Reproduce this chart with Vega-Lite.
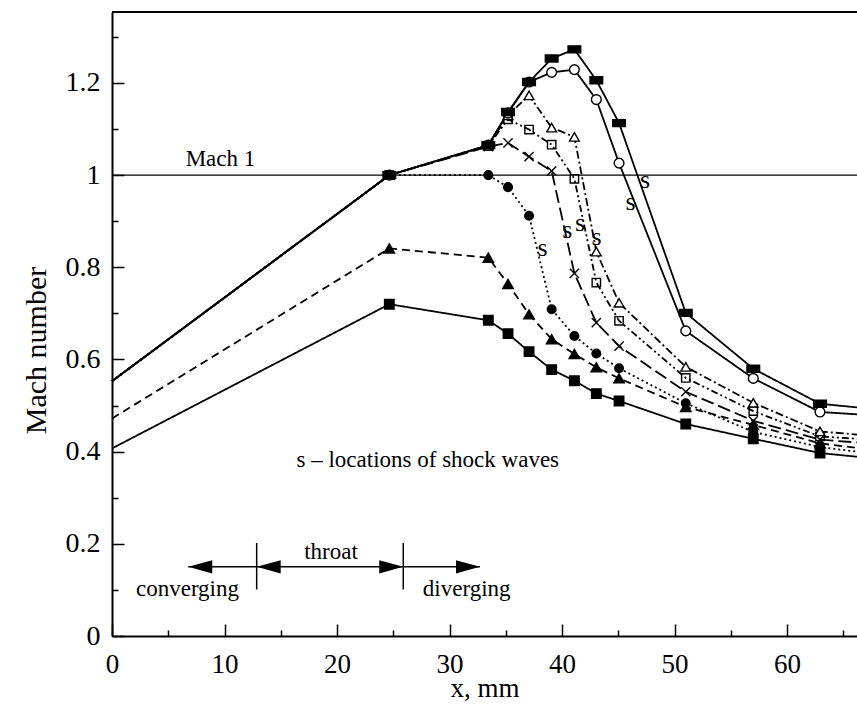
{
  "$schema": "https://vega.github.io/schema/vega-lite/v6.json",
  "width": 745,
  "height": 624,
  "autosize": "none",
  "padding": {"left": 112, "top": 12, "right": 0, "bottom": 68},
  "background": "white",
  "config": {
    "view": {"stroke": null},
    "font": "Liberation Serif",
    "axis": {
      "domainColor": "black", "tickColor": "black", "labelColor": "black", "titleColor": "black",
      "labelFont": "Liberation Serif", "titleFont": "Liberation Serif", "grid": false,
      "titleFontWeight": "normal"
    }
  },
  "datasets": {
    "curves": [
      {"s":"a","x":0,"y":0.407,"m":0},{"s":"a","x":24.65,"y":0.720,"m":1},{"s":"a","x":33.45,"y":0.685,"m":1},{"s":"a","x":35.2,"y":0.656,"m":1},{"s":"a","x":37.07,"y":0.617,"m":1},{"s":"a","x":39.08,"y":0.578,"m":1},{"s":"a","x":41.1,"y":0.554,"m":1},{"s":"a","x":43.05,"y":0.526,"m":1},{"s":"a","x":45.07,"y":0.510,"m":1},{"s":"a","x":51.0,"y":0.460,"m":1},{"s":"a","x":57.0,"y":0.428,"m":1},{"s":"a","x":62.93,"y":0.397,"m":1},{"s":"a","x":66.22,"y":0.389,"m":0},
      {"s":"b","x":0,"y":0.472,"m":0},{"s":"b","x":24.65,"y":0.841,"m":1},{"s":"b","x":33.45,"y":0.821,"m":1},{"s":"b","x":35.2,"y":0.764,"m":1},{"s":"b","x":37.07,"y":0.698,"m":1},{"s":"b","x":39.08,"y":0.644,"m":1},{"s":"b","x":41.1,"y":0.612,"m":1},{"s":"b","x":43.05,"y":0.583,"m":1},{"s":"b","x":45.07,"y":0.559,"m":1},{"s":"b","x":51.0,"y":0.497,"m":1},{"s":"b","x":57.0,"y":0.458,"m":1},{"s":"b","x":62.93,"y":0.418,"m":1},{"s":"b","x":66.22,"y":0.408,"m":0},
      {"s":"c","x":0,"y":0.553,"m":0},{"s":"c","x":24.65,"y":1.0,"m":1},{"s":"c","x":33.45,"y":1.0,"m":1},{"s":"c","x":35.2,"y":0.974,"m":1},{"s":"c","x":37.07,"y":0.912,"m":1},{"s":"c","x":39.08,"y":0.709,"m":1},{"s":"c","x":41.1,"y":0.651,"m":1},{"s":"c","x":43.05,"y":0.613,"m":1},{"s":"c","x":45.07,"y":0.581,"m":1},{"s":"c","x":51.0,"y":0.505,"m":1},{"s":"c","x":57.0,"y":0.443,"m":1},{"s":"c","x":62.93,"y":0.410,"m":1},{"s":"c","x":66.22,"y":0.400,"m":0},
      {"s":"d","x":0,"y":0.553,"m":0},{"s":"d","x":24.65,"y":1.0,"m":1},{"s":"d","x":33.45,"y":1.062,"m":1},{"s":"d","x":35.2,"y":1.070,"m":1},{"s":"d","x":37.07,"y":1.040,"m":1},{"s":"d","x":39.08,"y":1.009,"m":1},{"s":"d","x":41.1,"y":0.787,"m":1},{"s":"d","x":43.05,"y":0.680,"m":1},{"s":"d","x":45.07,"y":0.629,"m":1},{"s":"d","x":51.0,"y":0.530,"m":1},{"s":"d","x":57.0,"y":0.467,"m":1},{"s":"d","x":62.93,"y":0.426,"m":1},{"s":"d","x":66.22,"y":0.420,"m":0},
      {"s":"e","x":0,"y":0.553,"m":0},{"s":"e","x":24.65,"y":1.0,"m":1},{"s":"e","x":33.45,"y":1.064,"m":1},{"s":"e","x":35.2,"y":1.121,"m":1},{"s":"e","x":37.07,"y":1.099,"m":1},{"s":"e","x":39.08,"y":1.066,"m":1},{"s":"e","x":41.1,"y":0.992,"m":1},{"s":"e","x":43.05,"y":0.767,"m":1},{"s":"e","x":45.07,"y":0.684,"m":1},{"s":"e","x":51.0,"y":0.560,"m":1},{"s":"e","x":57.0,"y":0.488,"m":1},{"s":"e","x":62.93,"y":0.433,"m":1},{"s":"e","x":66.22,"y":0.428,"m":0},
      {"s":"f","x":0,"y":0.553,"m":0},{"s":"f","x":24.65,"y":1.0,"m":1},{"s":"f","x":33.45,"y":1.064,"m":1},{"s":"f","x":35.2,"y":1.130,"m":1},{"s":"f","x":37.07,"y":1.173,"m":1},{"s":"f","x":39.08,"y":1.103,"m":1},{"s":"f","x":41.1,"y":1.083,"m":1},{"s":"f","x":43.05,"y":0.834,"m":1},{"s":"f","x":45.07,"y":0.723,"m":1},{"s":"f","x":51.0,"y":0.584,"m":1},{"s":"f","x":57.0,"y":0.506,"m":1},{"s":"f","x":62.93,"y":0.444,"m":1},{"s":"f","x":66.22,"y":0.437,"m":0},
      {"s":"g","x":0,"y":0.553,"m":0},{"s":"g","x":24.65,"y":1.0,"m":1},{"s":"g","x":33.45,"y":1.065,"m":1},{"s":"g","x":35.2,"y":1.135,"m":1},{"s":"g","x":37.07,"y":1.202,"m":1},{"s":"g","x":39.08,"y":1.223,"m":1},{"s":"g","x":41.1,"y":1.229,"m":1},{"s":"g","x":43.05,"y":1.164,"m":1},{"s":"g","x":45.07,"y":1.026,"m":1},{"s":"g","x":51.0,"y":0.662,"m":1},{"s":"g","x":57.0,"y":0.559,"m":1},{"s":"g","x":62.93,"y":0.486,"m":1},{"s":"g","x":66.22,"y":0.481,"m":0},
      {"s":"h","x":0,"y":0.553,"m":0},{"s":"h","x":24.65,"y":1.0,"m":1},{"s":"h","x":33.45,"y":1.065,"m":1},{"s":"h","x":35.2,"y":1.137,"m":1},{"s":"h","x":37.07,"y":1.202,"m":1},{"s":"h","x":39.08,"y":1.253,"m":1},{"s":"h","x":41.1,"y":1.273,"m":1},{"s":"h","x":43.05,"y":1.206,"m":1},{"s":"h","x":45.07,"y":1.113,"m":1},{"s":"h","x":51.0,"y":0.701,"m":1},{"s":"h","x":57.0,"y":0.580,"m":1},{"s":"h","x":62.93,"y":0.504,"m":1},{"s":"h","x":66.22,"y":0.496,"m":0}
    ],
    "rules": [
      {"x":6.78,"x2":32.71,"y":0.150,"y2":0.150},
      {"x":12.86,"x2":12.86,"y":0.101,"y2":0.202},
      {"x":25.89,"x2":25.89,"y":0.101,"y2":0.202}
    ],
    "heads": [
      {"x":6.78,"y":0.150,"d":"L"},{"x":12.86,"y":0.150,"d":"L"},
      {"x":25.89,"y":0.150,"d":"R"},{"x":32.71,"y":0.150,"d":"R"}
    ],
    "labels": [
      {"x":9.64,"y":1.034,"t":"Mach 1"},
      {"x":19.47,"y":0.182,"t":"throat"},
      {"x":6.71,"y":0.102,"t":"converging"},
      {"x":31.53,"y":0.102,"t":"diverging"}
    ],
    "note": [
      {"x":16.4,"y":0.382,"t":"s – locations of shock waves"}
    ],
    "shocks": [
      {"x":38.28,"y":0.841,"t":"s"},{"x":40.47,"y":0.881,"t":"s"},{"x":41.6,"y":0.897,"t":"s"},
      {"x":43.08,"y":0.865,"t":"s"},{"x":46.1,"y":0.942,"t":"s"},{"x":47.38,"y":0.99,"t":"s"}
    ]
  },
  "layer": [
    {
      "data": {"values": [{"v": 1}]},
      "mark": {"type": "rule", "color": "black", "strokeWidth": 1.3},
      "encoding": {"y": {"field": "v", "type": "quantitative", "scale": {"domain": [0, 1.354], "nice": false, "zero": false}, "axis": null}}
    },
    {
      "data": {"values": [{"v": 1.354}]},
      "mark": {"type": "rule", "color": "black", "strokeWidth": 2},
      "encoding": {"y": {"field": "v", "type": "quantitative", "scale": {"domain": [0, 1.354], "nice": false, "zero": false}, "axis": null}}
    },
    {
      "data": {"name": "curves"},
      "mark": {"type": "line", "color": "black", "strokeWidth": 1.8},
      "encoding": {
        "x": {"field": "x", "type": "quantitative", "scale": {"domain": [0, 66.22], "nice": false, "zero": false},
          "axis": {"orient": "bottom", "values": [0,10,20,30,40,50,60], "tickSize": -12, "tickWidth": 1.5, "domainWidth": 2,
            "labelPadding": 27, "labelFontSize": 27, "labelFlush": false, "format": "d",
            "title": "x, mm", "titleFontSize": 27, "titleY": 60, "titleBaseline": "alphabetic"}},
        "y": {"field": "y", "type": "quantitative", "scale": {"domain": [0, 1.354], "nice": false, "zero": false},
          "axis": {"orient": "left", "values": [0,0.2,0.4,0.6,0.8,1,1.2], "tickSize": -12, "tickWidth": 1.5, "domainWidth": 2,
            "labelPadding": 24, "labelFontSize": 28, "labelFlush": false, "format": "~g",
            "title": "Mach number", "titleFontSize": 30, "titleX": -76, "titleY": 338, "titleBaseline": "middle"}},
        "detail": {"field": "s"},
        "strokeDash": {"field": "s", "type": "nominal", "legend": null,
          "scale": {"domain": ["a","b","c","d","e","f","g","h"],
            "range": [[1,0],[8,5],[2,3],[13,5],[7,3,2,3,2,3],[8,3,2,3],[1,0],[1,0]]}}
      }
    },
    {
      "data": {"name": "curves"},
      "transform": [{"filter": "datum.m == 1"}],
      "mark": {"type": "point", "filled": false, "stroke": "black", "strokeWidth": 1.4, "opacity": 1},
      "encoding": {
        "x": {"field": "x", "type": "quantitative", "scale": {"domain": [0, 66.22], "nice": false, "zero": false},
          "axis": {"orient": "bottom", "values": [5,15,25,35,45,55,65], "tickSize": -6, "tickWidth": 1.5, "labels": false, "domain": false, "title": null}},
        "y": {"field": "y", "type": "quantitative", "scale": {"domain": [0, 1.354], "nice": false, "zero": false},
          "axis": {"orient": "left", "values": [0.1,0.3,0.5,0.7,0.9,1.1,1.3], "tickSize": -6, "tickWidth": 1.5, "labels": false, "domain": false, "title": null}},
        "shape": {"field": "s", "type": "nominal", "legend": null,
          "scale": {"domain": ["a","b","c","d","e","f","g","h"],
            "range": ["square","triangle-up","circle","M-1,-1L1,1M-1,1L1,-1","square","triangle-up","circle","M-1,-0.55L1,-0.55L1,0.55L-1,0.55Z"]}},
        "fill": {"field": "s", "type": "nominal", "legend": null,
          "scale": {"domain": ["a","b","c","d","e","f","g","h"],
            "range": ["black","black","black","transparent","transparent","white","white","black"]}},
        "size": {"field": "s", "type": "ordinal", "legend": null,
          "scale": {"type": "ordinal", "domain": ["a","b","c","d","e","f","g","h"],
            "range": [90, 110, 75, 85, 70, 95, 95, 160]}}
      }
    },
    {
      "data": {"name": "rules"},
      "mark": {"type": "rule", "color": "black", "strokeWidth": 1.5},
      "encoding": {
        "x": {"field": "x", "type": "quantitative", "scale": {"domain": [0, 66.22], "nice": false, "zero": false}, "axis": null},
        "x2": {"field": "x2"},
        "y": {"field": "y", "type": "quantitative", "scale": {"domain": [0, 1.354], "nice": false, "zero": false}, "axis": null},
        "y2": {"field": "y2"}
      }
    },
    {
      "data": {"name": "heads"},
      "transform": [{"filter": "datum.d == 'L'"}],
      "mark": {"type": "point", "filled": true, "color": "black", "opacity": 1, "size": 576, "shape": "M0,0L2,-0.56L2,0.56Z"},
      "encoding": {
        "x": {"field": "x", "type": "quantitative", "scale": {"domain": [0, 66.22], "nice": false, "zero": false}, "axis": null},
        "y": {"field": "y", "type": "quantitative", "scale": {"domain": [0, 1.354], "nice": false, "zero": false}, "axis": null}
      }
    },
    {
      "data": {"name": "heads"},
      "transform": [{"filter": "datum.d == 'R'"}],
      "mark": {"type": "point", "filled": true, "color": "black", "opacity": 1, "size": 576, "shape": "M0,0L-2,-0.56L-2,0.56Z"},
      "encoding": {
        "x": {"field": "x", "type": "quantitative", "scale": {"domain": [0, 66.22], "nice": false, "zero": false}, "axis": null},
        "y": {"field": "y", "type": "quantitative", "scale": {"domain": [0, 1.354], "nice": false, "zero": false}, "axis": null}
      }
    },
    {
      "data": {"name": "labels"},
      "mark": {"type": "text", "font": "Liberation Serif", "fontSize": 23, "color": "black", "align": "center", "baseline": "middle"},
      "encoding": {
        "x": {"field": "x", "type": "quantitative", "scale": {"domain": [0, 66.22], "nice": false, "zero": false}, "axis": null},
        "y": {"field": "y", "type": "quantitative", "scale": {"domain": [0, 1.354], "nice": false, "zero": false}, "axis": null},
        "text": {"field": "t"}
      }
    },
    {
      "data": {"name": "note"},
      "mark": {"type": "text", "font": "Liberation Serif", "fontSize": 23, "color": "black", "align": "left", "baseline": "middle"},
      "encoding": {
        "x": {"field": "x", "type": "quantitative", "scale": {"domain": [0, 66.22], "nice": false, "zero": false}, "axis": null},
        "y": {"field": "y", "type": "quantitative", "scale": {"domain": [0, 1.354], "nice": false, "zero": false}, "axis": null},
        "text": {"field": "t"}
      }
    },
    {
      "data": {"name": "shocks"},
      "mark": {"type": "text", "font": "Liberation Serif", "fontSize": 26, "color": "black", "align": "center", "baseline": "middle"},
      "encoding": {
        "x": {"field": "x", "type": "quantitative", "scale": {"domain": [0, 66.22], "nice": false, "zero": false}, "axis": null},
        "y": {"field": "y", "type": "quantitative", "scale": {"domain": [0, 1.354], "nice": false, "zero": false}, "axis": null},
        "text": {"field": "t"}
      }
    }
  ],
  "resolve": {"axis": {"x": "independent", "y": "independent"}}
}
